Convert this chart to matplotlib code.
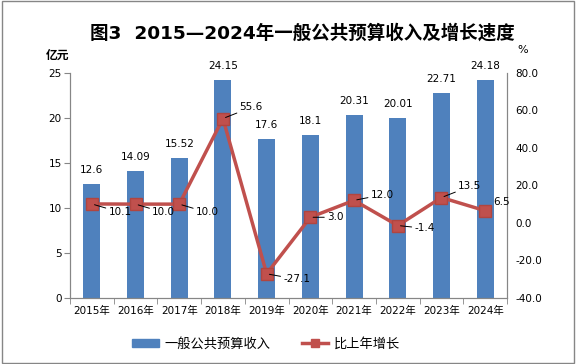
import matplotlib.pyplot as plt
import numpy as np

plt.rcParams['font.family'] = ['DejaVu Sans', 'Noto Sans CJK SC']

years = ['2015年', '2016年', '2017年', '2018年', '2019年',
         '2020年', '2021年', '2022年', '2023年', '2024年']
revenue = [12.6, 14.09, 15.52, 24.15, 17.6, 18.1, 20.31, 20.01, 22.71, 24.18]
revenue_labels = ['12.6', '14.09', '15.52', '24.15', '17.6',
                  '18.1', '20.31', '20.01', '22.71', '24.18']
growth = [10.1, 10.0, 10.0, 55.6, -27.1, 3.0, 12.0, -1.4, 13.5, 6.5]

# label offsets in points (dx, dy) for the growth labels
growth_offsets = [(12, -6), (12, -6), (12, -6), (12, 8), (12, -4),
                  (12, 0), (12, 4), (12, -2), (12, 8), (6, 6)]

bar_color = '#4F81BD'
line_color = '#C0504D'
axis_color = '#868686'

fig = plt.figure(figsize=(5.76, 3.64), dpi=100)
ax = fig.add_axes([70 / 576, 1 - 298 / 364, 437 / 576, 225.3 / 364])
ax2 = ax.twinx()

x = np.arange(len(years))
ax.bar(x, revenue, width=0.39, color=bar_color, zorder=2)
for xi, v, lab in zip(x, revenue, revenue_labels):
    ax.text(xi, v + 1.0, lab, ha='center', va='bottom', fontsize=7.5)

ax.set_xlim(-0.5, len(years) - 0.5)
ax.set_ylim(0, 25)
ax.set_yticks(np.arange(0, 26, 5))
ax.set_xticks(x)
ax.set_xticklabels(years, fontsize=7.5)
ax.set_xticks(np.arange(-0.5, len(years), 1), minor=True)
ax.tick_params(axis='x', which='major', length=0, pad=6)
ax.tick_params(axis='x', which='minor', length=4, color=axis_color)
ax.tick_params(axis='y', length=4, color=axis_color, labelsize=7.5, pad=2)

ax2.plot(x, growth, color=line_color, lw=2.5, marker='s', markersize=8,
         markerfacecolor=line_color, markeredgecolor='#B04540', zorder=3)
ax2.set_ylim(-40, 80)
ax2.set_yticks(np.arange(-40, 81, 20))
ax2.set_yticklabels(['%.1f' % t for t in np.arange(-40, 81, 20)])
ax2.tick_params(axis='y', length=0, labelsize=7.5, pad=6)

for i, (xi, g) in enumerate(zip(x, growth)):
    dx, dy = growth_offsets[i]
    arrow = None if i == len(growth) - 1 else dict(arrowstyle='-', color='black', lw=0.7,
                                                   shrinkA=0, shrinkB=2)
    ax2.annotate('%.1f' % g, xy=(xi, g), xytext=(dx, dy), textcoords='offset points',
                 ha='left', va='center', fontsize=7.5, arrowprops=arrow)

for a in (ax, ax2):
    a.spines['top'].set_visible(False)
    for side in ('left', 'right', 'bottom'):
        a.spines[side].set_color(axis_color)

fig.text(302 / 576, 1 - 33 / 364, '图3  2015—2024年一般公共预算收入及增长速度',
         ha='center', va='center', fontsize=13.3, fontweight='bold')
fig.text(58 / 576, 1 - 55 / 364, '亿元', ha='center', va='center',
         fontsize=8.5, fontweight='bold')
fig.text(523 / 576, 1 - 50 / 364, '%', ha='center', va='center', fontsize=8)

# legend
h1 = plt.Rectangle((0, 0), 1, 1, color=bar_color)
h2, = ax2.plot([], [], color=line_color, lw=2.5, marker='s', markersize=6)
fig.legend([h1, h2], ['一般公共预算收入', '比上年增长'], loc='center',
           bbox_to_anchor=(266 / 576, 1 - 344 / 364), ncol=2, frameon=False,
           fontsize=9.5, handlelength=2.0, handleheight=0.5, handletextpad=0.4,
           columnspacing=2.4)

# outer border
fig.patches.append(plt.Rectangle((0.003, 0.004), 0.994, 0.992, transform=fig.transFigure,
                                 fill=False, edgecolor=axis_color, lw=1))

fig.savefig('out.png', dpi=100)
